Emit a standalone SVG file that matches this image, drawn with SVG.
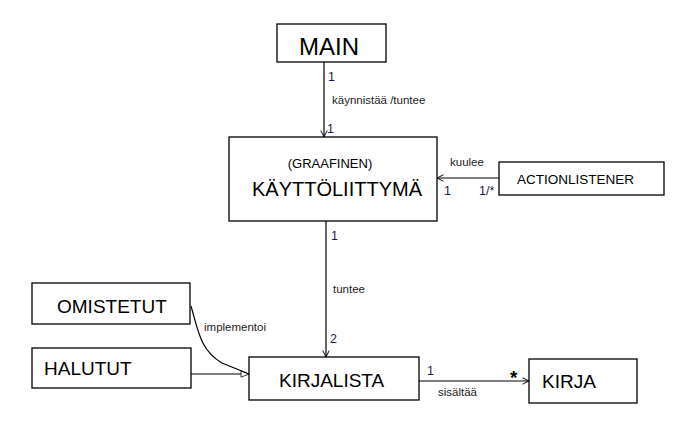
<svg xmlns="http://www.w3.org/2000/svg" width="682" height="433" viewBox="0 0 682 433">
<style>
.box{fill:#fff;stroke:#000;stroke-width:1.3}
.t{font-family:"Liberation Sans",Arial,sans-serif;fill:#000}
.lbl{font-family:"Liberation Sans",Arial,sans-serif;font-size:11.5px;fill:#222}
.m{font-family:"Liberation Sans",Arial,sans-serif;font-size:12.5px;fill:#1a1a4a}
.ln{fill:none;stroke:#000;stroke-width:1.2}
</style>
<defs>
<marker id="open" viewBox="0 0 10 10" refX="9" refY="5" markerWidth="8" markerHeight="8" orient="auto" markerUnits="userSpaceOnUse">
<path d="M1,1 L9,5 L1,9" fill="none" stroke="#000" stroke-width="1.2"/>
</marker>
<marker id="tri" viewBox="0 0 12 10" refX="11" refY="5" markerWidth="10" markerHeight="8" orient="auto" markerUnits="userSpaceOnUse">
<path d="M1,1 L11,5 L1,9 Z" fill="#fff" stroke="#000" stroke-width="1"/>
</marker>
</defs>
<rect width="682" height="433" fill="#fff"/>
<g id="connectors">
<line class="ln" x1="324" y1="62" x2="324" y2="137" marker-end="url(#open)"/>
<line class="ln" x1="499" y1="178" x2="437" y2="178" marker-end="url(#open)"/>
<line class="ln" x1="326" y1="221" x2="326" y2="357" marker-end="url(#open)"/>
<line class="ln" x1="419" y1="381" x2="529" y2="381" marker-end="url(#open)"/>
<line class="ln" x1="191" y1="374" x2="249" y2="374" marker-end="url(#tri)"/>
<path class="ln" d="M191,306 C198,330 200,350 222,363 L249,374"/>
<text class="m" x="328" y="81">1</text>
<text class="lbl" x="332" y="104">käynnistää /tuntee</text>
<text class="m" x="327" y="133">1</text>
<text class="lbl" x="450" y="166">kuulee</text>
<text class="m" x="444" y="195">1</text>
<text class="m" x="479" y="195">1/*</text>
<text class="m" x="331" y="240">1</text>
<text class="lbl" x="333" y="293">tuntee</text>
<text class="m" x="330" y="343">2</text>
<text class="lbl" x="204" y="331">implementoi</text>
<text class="m" x="427" y="375">1</text>
<text class="t" x="510" y="384" font-size="19" font-weight="bold">*</text>
<text class="lbl" x="438" y="396">sisältää</text>
</g>
<g id="main">
<rect class="box" x="277" y="24" width="109" height="38"/>
<text class="t" x="299" y="55" font-size="24">MAIN</text>
</g>
<g id="kayttoliittyma">
<rect class="box" x="229" y="137" width="208" height="84"/>
<text class="t" x="330" y="168" font-size="13" text-anchor="middle">(GRAAFINEN)</text>
<text class="t" x="337" y="196" font-size="20" text-anchor="middle">KÄYTTÖLIITTYMÄ</text>
</g>
<g id="actionlistener">
<rect class="box" x="499" y="162" width="165" height="33"/>
<text class="t" x="517" y="184" font-size="13.5">ACTIONLISTENER</text>
</g>
<g id="omistetut">
<rect class="box" x="32" y="283" width="158" height="41"/>
<text class="t" x="57" y="313" font-size="19">OMISTETUT</text>
</g>
<g id="halutut">
<rect class="box" x="32" y="348" width="159" height="40"/>
<text class="t" x="44" y="375" font-size="19">HALUTUT</text>
</g>
<g id="kirjalista">
<rect class="box" x="249" y="357" width="170" height="43"/>
<text class="t" x="279" y="387" font-size="19">KIRJALISTA</text>
</g>
<g id="kirja">
<rect class="box" x="529" y="359" width="108" height="44"/>
<text class="t" x="542" y="388" font-size="19">KIRJA</text>
</g>
</svg>
